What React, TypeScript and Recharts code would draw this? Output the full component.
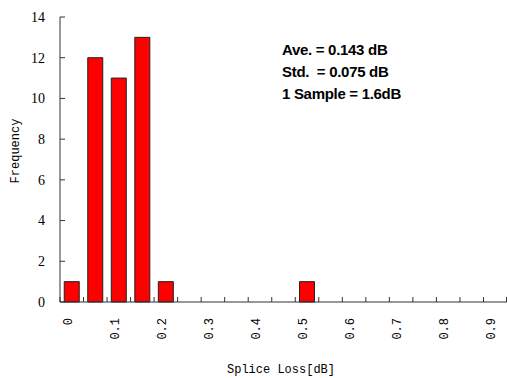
import React from 'react';
import { BarChart, Bar, XAxis, YAxis, Customized } from 'recharts';

const bins = ['0', '0.05', '0.1', '0.15', '0.2', '0.25', '0.3', '0.35', '0.4', '0.45', '0.5', '0.55', '0.6', '0.65', '0.7', '0.75', '0.8', '0.85', '0.9'];
const frequency = [1, 12, 11, 13, 1, 0, 0, 0, 0, 0, 1, 0, 0, 0, 0, 0, 0, 0, 0];
const xTickLabels = ['0', '', '0.1', '', '0.2', '', '0.3', '', '0.4', '', '0.5', '', '0.6', '', '0.7', '', '0.8', '', '0.9'];
const yTicks = [0, 2, 4, 6, 8, 10, 12, 14];
const notes = ['Ave. = 0.143 dB', 'Std.  = 0.075 dB', '1 Sample = 1.6dB'];

const data = bins.map((b, i) => ({ bin: b, freq: frequency[i] }));

const W = 507;
const H = 378;
const PLOT_LEFT = 60;
const PLOT_RIGHT = 507;
const BAND = (PLOT_RIGHT - PLOT_LEFT) / bins.length;
const MONO = '"Liberation Mono", "DejaVu Sans Mono", monospace';
const SERIF = '"Liberation Serif", "DejaVu Serif", serif';

const XTick = (props: any) => {
  const { x, y, index } = props;
  const label = xTickLabels[index] ?? '';
  const left = x - BAND / 2;
  const isLast = index === bins.length - 1;
  return (
    <g>
      <line x1={left} y1={y} x2={left} y2={y - 5} stroke="#333" strokeWidth={1} />
      {isLast && <line x1={x + BAND / 2 - 0.5} y1={y} x2={x + BAND / 2 - 0.5} y2={y - 5} stroke="#333" strokeWidth={1} />}
      {label !== '' && (
        <text
          x={x - 4}
          y={y + 16}
          transform={`rotate(-90, ${x - 4}, ${y + 16})`}
          textAnchor="end"
          dy="0.35em"
          fontFamily={MONO}
          fontSize={12}
          fill="#000"
        >
          {label}
        </text>
      )}
    </g>
  );
};

const YTick = (props: any) => {
  const { x, y, payload } = props;
  return (
    <g>
      <line x1={PLOT_LEFT} y1={y} x2={PLOT_LEFT + 5} y2={y} stroke="#333" strokeWidth={1} />
      <text x={x - 15} y={y} dy="0.35em" textAnchor="end" fontFamily={SERIF} fontSize={14} fill="#000">
        {payload.value}
      </text>
    </g>
  );
};

const Labels = () => (
  <g>
    <text
      x={15}
      y={151}
      transform="rotate(-90, 15, 151)"
      textAnchor="middle"
      dy="0.35em"
      fontFamily={MONO}
      fontSize={12}
      fill="#000"
    >
      Frequency
    </text>
    <text x={281} y={369} textAnchor="middle" dy="0.35em" fontFamily={MONO} fontSize={12} fill="#000">
      Splice Loss[dB]
    </text>
    {notes.map((n, i) => (
      <text
        key={i}
        x={282}
        y={55 + i * 22}
        fontFamily='"Liberation Sans", Arial, sans-serif'
        fontWeight="bold"
        fontSize={15}
        letterSpacing={-0.3}
        fill="#000"
        style={{ whiteSpace: 'pre' }}
      >
        {n}
      </text>
    ))}
  </g>
);

export default function App() {
  return (
    <div style={{ position: 'absolute', left: 0, top: 0, width: W, height: H, background: '#fff' }}>
      <BarChart
        width={W}
        height={H}
        data={data}
        margin={{ top: 17, right: 0, bottom: 0, left: 0 }}
        barCategoryGap="18%"
      >
        <XAxis
          dataKey="bin"
          height={76}
          interval={0}
          tickLine={false}
          tickSize={0}
          tickMargin={0}
          axisLine={{ stroke: '#333', strokeWidth: 1 }}
          tick={<XTick />}
        />
        <YAxis
          width={60}
          domain={[0, 14]}
          ticks={yTicks}
          interval={0}
          tickLine={false}
          tickSize={0}
          tickMargin={0}
          axisLine={{ stroke: '#333', strokeWidth: 1 }}
          tick={<YTick />}
        />
        <Bar dataKey="freq" fill="#FF0000" stroke="#222" strokeWidth={1} isAnimationActive={false} />
        <Customized component={Labels} />
      </BarChart>
    </div>
  );
}
